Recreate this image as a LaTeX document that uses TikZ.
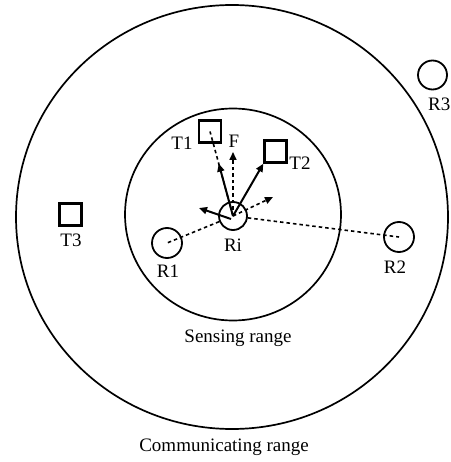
\documentclass[tikz,border=0pt]{standalone}
\usepackage{fontspec}
\setmainfont{Liberation Serif}
\usetikzlibrary{arrows.meta,calc}
\begin{document}
\begin{tikzpicture}[x=1pt,y=-1pt,
  rangering/.style={draw,line width=1.7pt},
  robot/.style={draw,circle,line width=1.8pt,inner sep=0pt},
  target/.style={draw,rectangle,line width=2.4pt,inner sep=0pt,minimum size=22pt},
  lbl/.style={font=\fontsize{19}{19}\selectfont,inner sep=0pt},
  dashline/.style={line width=1.6pt,dash pattern=on 3.5pt off 3pt},
  solidarrow/.style={line width=2pt,-{Triangle[length=8pt,width=7pt]}},
  dasharrow/.style={dashline,-{Triangle[length=8pt,width=7pt]}}]
\useasboundingbox (0,0) rectangle (450,462);
\fill[white] (0,0) rectangle (450,462);
% ranges
\draw[rangering] (232,217) ellipse [x radius=216, y radius=212];
\draw[rangering] (233,214.5) ellipse [x radius=108, y radius=106];
% robots
\node[robot,minimum size=28pt] (Ri) at (233,216) {};
\node[robot,minimum size=30pt] (R1) at (167,243) {};
\node[robot,minimum size=30pt] (R2) at (399,237) {};
\node[robot,minimum size=29pt] (R3) at (432.5,75) {};
% targets
\node[target,minimum size=22pt] (T1) at (210,131.5) {};
\node[target,minimum size=22pt] (T2) at (275.5,151.5) {};
\node[target] (T3) at (70.5,214.5) {};
% labels
\node[lbl] (lT1) at (182,143) {T1};
\node[lbl] (lF) at (234,141) {F};
\node[lbl] (lT2) at (300,163) {T2};
\node[lbl] (lT3) at (71,240) {T3};
\node[lbl] (lRi) at (233,245) {Ri};
\node[lbl] (lR1) at (168,271) {R1};
\node[lbl] (lR2) at (395,267) {R2};
\node[lbl,anchor=west] (lR3) at (428,104) {R3};
\node[lbl] (lS) at (238,338) {Sensing range};
\node[lbl] (lC) at (224,447) {Communicating range};
% free ends
\coordinate (Ftip) at (233,152);
\coordinate (Dtip) at (273,197);
\coordinate (Ltip) at (199,208);
% connectors
\draw[dashline] (Ri.center) -- (T1.center);
\draw[solidarrow] (Ri.center) -- ($(Ri.center)!0.62!(T1.center)$);
\draw[dasharrow] (Ri.center) -- (Ftip);
\draw[solidarrow] (Ri.center) -- (T2.south west);
\draw[dasharrow] (Ri.center) -- (Dtip);
\draw[solidarrow] ($(Ri.center)+(-2,3)$) -- (Ltip);
\draw[dashline] (Ri) -- (R1.center);
\draw[dashline] (Ri) -- (R2.center);
\end{tikzpicture}
\end{document}
